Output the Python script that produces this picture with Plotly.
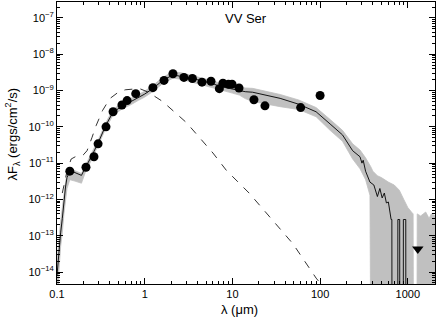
import plotly.graph_objects as go

# ---- observed photometry ----
obs_wl = [0.14, 0.214, 0.264, 0.294, 0.362, 0.436, 0.55, 0.63, 0.79, 1.24, 1.66, 2.1, 2.8, 3.5,
          4.5, 5.7, 7.1, 7.8, 9.0, 9.9, 11.9, 17.6, 23.5, 60, 100]
obs_f = [6e-12, 7.7e-12, 1.5e-11, 3.4e-11, 1.0e-10, 2.6e-10, 4.0e-10, 5.3e-10, 8.2e-10, 1.2e-9,
         1.9e-9, 2.9e-9, 2.3e-9, 2.15e-9, 1.7e-9, 1.8e-9, 1.13e-9, 1.6e-9, 1.5e-9, 1.5e-9,
         1.18e-9, 5.6e-10, 3.8e-10, 3.4e-10, 7.3e-10]

# upper limit
lim_wl = [1300]
lim_f = [4.3e-14]

# ---- best-fit model ----
fit_wl = [0.1, 0.105, 0.11, 0.115, 0.12, 0.125, 0.13, 0.14, 0.16, 0.19, 0.21, 0.25, 0.3, 0.36,
          0.43, 0.55, 0.7, 0.85, 1.0, 1.25, 1.6, 2.1, 2.6, 3.5, 4.5, 6, 7.2, 8.5, 10, 12, 14,
          17, 20, 24, 35, 57, 90, 130, 180, 235, 285, 300, 310, 330, 370, 410, 450, 480, 510,
          540, 570, 600, 630, 645, 658, 660, 768, 770, 808, 810, 888, 890, 948, 950, 2100]
fit_f = [8e-15, 4e-14, 1.2e-13, 3e-13, 1e-12, 2.2e-12, 4e-12, 6e-12, 5.5e-12, 4.6e-12, 7.5e-12,
         1.6e-11, 4e-11, 1.1e-10, 2.4e-10, 3.8e-10, 5e-10, 6.5e-10, 8e-10, 1.15e-9, 1.9e-9,
         2.7e-9, 2.5e-9, 2.15e-9, 1.85e-9, 1.55e-9, 1.3e-9, 1.2e-9, 1.12e-9, 1.02e-9, 9.3e-10,
         9e-10, 8.3e-10, 7.4e-10, 6.1e-10, 4.2e-10, 2.6e-10, 1.2e-10, 6e-11, 2.2e-11, 1.5e-11,
         1e-11, 1.2e-11, 6e-12, 3e-12, 2.5e-12, 1.2e-12, 2e-12, 1.1e-12, 1.5e-12, 8e-13, 8.5e-13,
         4e-13, 2.8e-13, 2.8e-13, 1e-16, 1e-16, 2.8e-13, 2.8e-13, 1e-16, 1e-16, 2.8e-13, 2.8e-13,
         1e-16, 1e-16]

# ---- range of acceptable models (grey band) ----
band_wl = [0.1, 0.105, 0.11, 0.115, 0.12, 0.125, 0.13, 0.14, 0.16, 0.19, 0.21, 0.25, 0.3, 0.36,
           0.43, 0.55, 0.7, 0.85, 1.0, 1.25, 1.6, 2.1, 2.6, 3.5, 4.5, 6, 7.2, 8.5, 10, 12, 14,
           17, 20, 24, 35, 57, 90, 130, 180, 235, 285, 330, 370, 378, 400, 450, 500, 600, 700,
           800, 900, 1000, 1100, 1150, 1160, 1270, 1280, 1400, 1600, 1750, 1850, 2100]
band_hi = [2e-14, 8e-14, 2.5e-13, 6e-13, 1.6e-12, 3e-12, 5e-12, 6.8e-12, 6.2e-12, 5.2e-12,
           8.5e-12, 1.9e-11, 4.8e-11, 1.3e-10, 2.9e-10, 4.6e-10, 6e-10, 7.8e-10, 9.6e-10, 1.4e-9,
           2.3e-9, 3.3e-9, 3.1e-9, 2.6e-9, 2.2e-9, 1.85e-9, 1.6e-9, 1.45e-9, 1.38e-9, 1.27e-9,
           1.18e-9, 1.15e-9, 1.05e-9, 9.5e-10, 7.8e-10, 5.5e-10, 3.4e-10, 1.6e-10, 8e-11, 3.4e-11,
           2.3e-11, 1.4e-11, 9e-12, 8e-12, 6e-12, 4.5e-12, 4e-12, 3e-12, 2.5e-12, 1.8e-12, 1e-12,
           6e-13, 4.5e-13, 4e-13, 1e-16, 1e-16, 4e-13, 3.5e-13, 4.5e-13, 3e-13, 4e-13, 3.5e-13]
band_lo = [1e-16, 1e-14, 5e-14, 1.2e-13, 4e-13, 1e-12, 2e-12, 3.5e-12, 3.2e-12, 2.8e-12,
           5.5e-12, 1.3e-11, 3.3e-11, 9e-11, 2e-10, 3.1e-10, 4.1e-10, 5.4e-10, 6.6e-10, 9.5e-10,
           1.55e-9, 2.2e-9, 2.05e-9, 1.7e-9, 1.45e-9, 1.2e-9, 1.05e-9, 9.5e-10, 8.5e-10, 7.5e-10,
           6e-10, 5e-10, 4.5e-10, 4.2e-10, 3.6e-10, 3e-10, 1.9e-10, 8e-11, 4e-11, 1.3e-11,
           7e-12, 3.5e-12, 1.3e-12, 1e-16, 1e-16, 1e-16, 1e-16, 1e-16, 1e-16, 1e-16, 1e-16, 1e-16,
           1e-16, 1e-16, 1e-16, 1e-16, 1e-16, 1e-16, 1e-16, 1e-16, 1e-16, 1e-16]

# ---- stellar photosphere (dashed) ----
star_wl = [0.115, 0.13, 0.145, 0.17, 0.2, 0.22, 0.25, 0.28, 0.33, 0.4, 0.5, 0.6, 0.75, 0.9, 1.1,
           1.4, 1.6, 2.3, 3.0, 6.0, 8.5, 15.5, 26, 49, 90, 110]
star_f = [1.5e-12, 6e-12, 1.3e-11, 1.6e-11, 1.7e-11, 2.2e-11, 5e-11, 1.1e-10, 2.8e-10, 6e-10,
          9e-10, 1.05e-9, 1.1e-9, 1.1e-9, 9e-10, 6e-10, 5e-10, 2.3e-10, 1.3e-10, 1.9e-11,
          6.4e-12, 1.5e-12, 3.6e-13, 6e-14, 6.8e-15, 3.8e-15]

x_ticks = [0.1, 1, 10, 100, 1000]
x_ticktext = ["0.1", "1", "10", "100", "1000"]
y_ticks = [1e-14, 1e-13, 1e-12, 1e-11, 1e-10, 1e-9, 1e-8, 1e-7]
y_ticktext = ["10<sup>−14</sup>", "10<sup>−13</sup>", "10<sup>−12</sup>", "10<sup>−11</sup>",
              "10<sup>−10</sup>", "10<sup>−9</sup>", "10<sup>−8</sup>", "10<sup>−7</sup>"]

title_text = "VV Ser"
x_title = "λ (μm)"
y_title = "λF<sub>λ</sub> (ergs/cm<sup>2</sup>/s)"

FONT = "Liberation Sans, Arial, Helvetica, sans-serif"
GREY = "#c0c0c0"

fig = go.Figure()
fig.add_trace(go.Scatter(x=band_wl + band_wl[::-1], y=band_hi + band_lo[::-1],
                         fill="toself", fillcolor=GREY, line=dict(color=GREY, width=0.8),
                         mode="lines", hoverinfo="skip", showlegend=False))
fig.add_trace(go.Scatter(x=star_wl, y=star_f, mode="lines",
                         line=dict(color="black", width=0.8, dash="8px,8px"), showlegend=False))
fig.add_trace(go.Scatter(x=fit_wl, y=fit_f, mode="lines",
                         line=dict(color="black", width=0.9), showlegend=False))
fig.add_trace(go.Scatter(x=obs_wl, y=obs_f, mode="markers",
                         marker=dict(color="black", size=9, symbol="circle"), showlegend=False))
fig.add_trace(go.Scatter(x=lim_wl, y=lim_f, mode="markers",
                         marker=dict(color="black", size=10, symbol="triangle-down"),
                         showlegend=False))

minor_x = [m * 10 ** e for e in range(-1, 4) for m in range(2, 10)]
minor_y = [m * 10.0 ** e for e in range(-15, -6) for m in range(2, 10)]

axis_common = dict(showline=True, linecolor="black", linewidth=1, mirror="allticks",
                   ticks="inside", ticklen=6, tickcolor="black", tickwidth=1,
                   showgrid=False, zeroline=False, automargin=False,
                   tickfont=dict(family=FONT, size=11, color="black"))

fig.update_xaxes(type="log", range=[-1, 3.31], tickmode="array", tickvals=x_ticks,
                 ticktext=x_ticktext,
                 minor=dict(tickmode="array", tickvals=minor_x, ticks="inside", ticklen=3,
                            tickcolor="black", showgrid=False),
                 **axis_common)
fig.update_yaxes(type="log", range=[-14.33, -6.56], tickmode="array", tickvals=y_ticks,
                 ticktext=y_ticktext,
                 minor=dict(tickmode="array", tickvals=minor_y, ticks="inside", ticklen=3,
                            tickcolor="black", showgrid=False),
                 **axis_common)

fig.update_layout(
    width=436, height=324,
    margin=dict(l=57, r=1, t=2, b=40, autoexpand=False),
    plot_bgcolor="white", paper_bgcolor="white",
    font=dict(family=FONT, color="black"),
    annotations=[
        dict(text=title_text, x=0.5, y=0.943, xref="paper", yref="paper", showarrow=False,
             xanchor="center", yanchor="middle",
             font=dict(family=FONT, size=13, color="black")),
        dict(text=x_title, x=0.484, y=-0.092, xref="paper", yref="paper", showarrow=False,
             xanchor="center", yanchor="middle", font=dict(family=FONT, size=13, color="black")),
        dict(text=y_title, x=-0.119, y=0.53, xref="paper", yref="paper", showarrow=False,
             textangle=-90, xanchor="center", yanchor="middle",
             font=dict(family=FONT, size=13, color="black")),
    ],
)

fig.write_html("out.html", config={"displayModeBar": False},
               post_script="document.body.style.margin='0';document.body.style.overflow='hidden';")
